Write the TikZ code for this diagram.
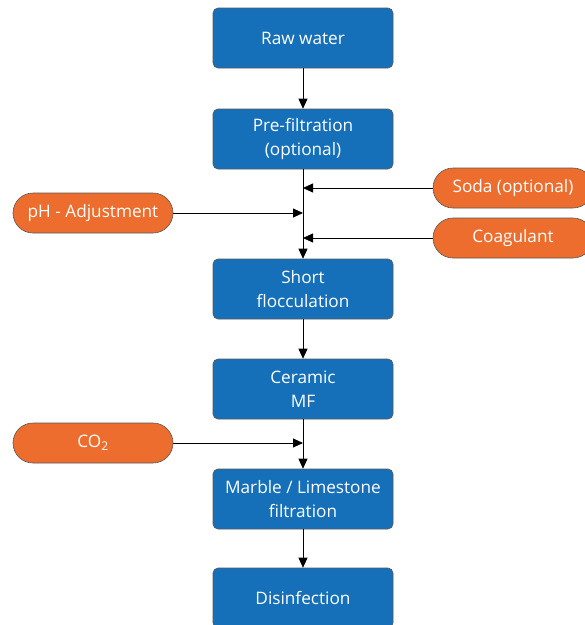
\documentclass[tikz,border=0pt]{standalone}
\usepackage{fontspec}
\setmainfont{Open Sans}
\usetikzlibrary{arrows.meta,positioning}
\definecolor{stepblue}{HTML}{1570B9}
\definecolor{addorange}{HTML}{EC6D2D}
\tikzset{
    process step/.style={
        draw=gray!70!black, line width=0.6pt, fill=stepblue,
        rounded corners=5pt, minimum width=180pt, minimum height=60pt,
        text=white, align=center, font=\fontsize{17.2}{24}\selectfont
    },
    additive/.style={
        draw=gray!70!black, line width=0.6pt, fill=addorange,
        rounded corners=20pt, minimum width=160pt, minimum height=40pt,
        text=white, align=center, font=\fontsize{17.2}{24}\selectfont
    },
    flow/.style={
        draw, line width=0.8pt, -{Triangle[length=10pt,width=9pt]}
    }
}
\begin{document}
\begin{tikzpicture}[x=1pt,y=-1pt]
    \useasboundingbox (0,0) rectangle (585,625);
    % main treatment line
    \node[process step] (raw) at (303,38) {Raw water};
    \node[process step] (prefilt) at (303,139) {Pre-filtration\\(optional)};
    \node[process step] (floc) at (303,289) {Short\\flocculation};
    \node[process step] (mf) at (303,389) {Ceramic\\MF};
    \node[process step] (marble) at (303,499) {Marble / Limestone\\filtration};
    \node[process step] (disinf) at (303,598) {Disinfection};
    % chemicals dosed
    \node[additive] (soda) at (513,188) {Soda (optional)};
    \node[additive] (ph) at (93,213) {pH - Adjustment};
    \node[additive] (coag) at (513,238) {Coagulant};
    \node[additive] (co2) at (93,443) {CO\textsubscript{2}};
    \coordinate (sodain) at (303,188);
    \coordinate (phin) at (303,213);
    \coordinate (coagin) at (303,238);
    \coordinate (co2in) at (303,443);
    \draw[flow] (raw) -- (prefilt);
    \draw[flow] (prefilt) -- (floc);
    \draw[flow] (floc) -- (mf);
    \draw[flow] (mf) -- (marble);
    \draw[flow] (marble) -- (disinf);
    \draw[flow] (soda) -- (sodain);
    \draw[flow] (ph) -- (phin);
    \draw[flow] (coag) -- (coagin);
    \draw[flow] (co2) -- (co2in);
\end{tikzpicture}
\end{document}
